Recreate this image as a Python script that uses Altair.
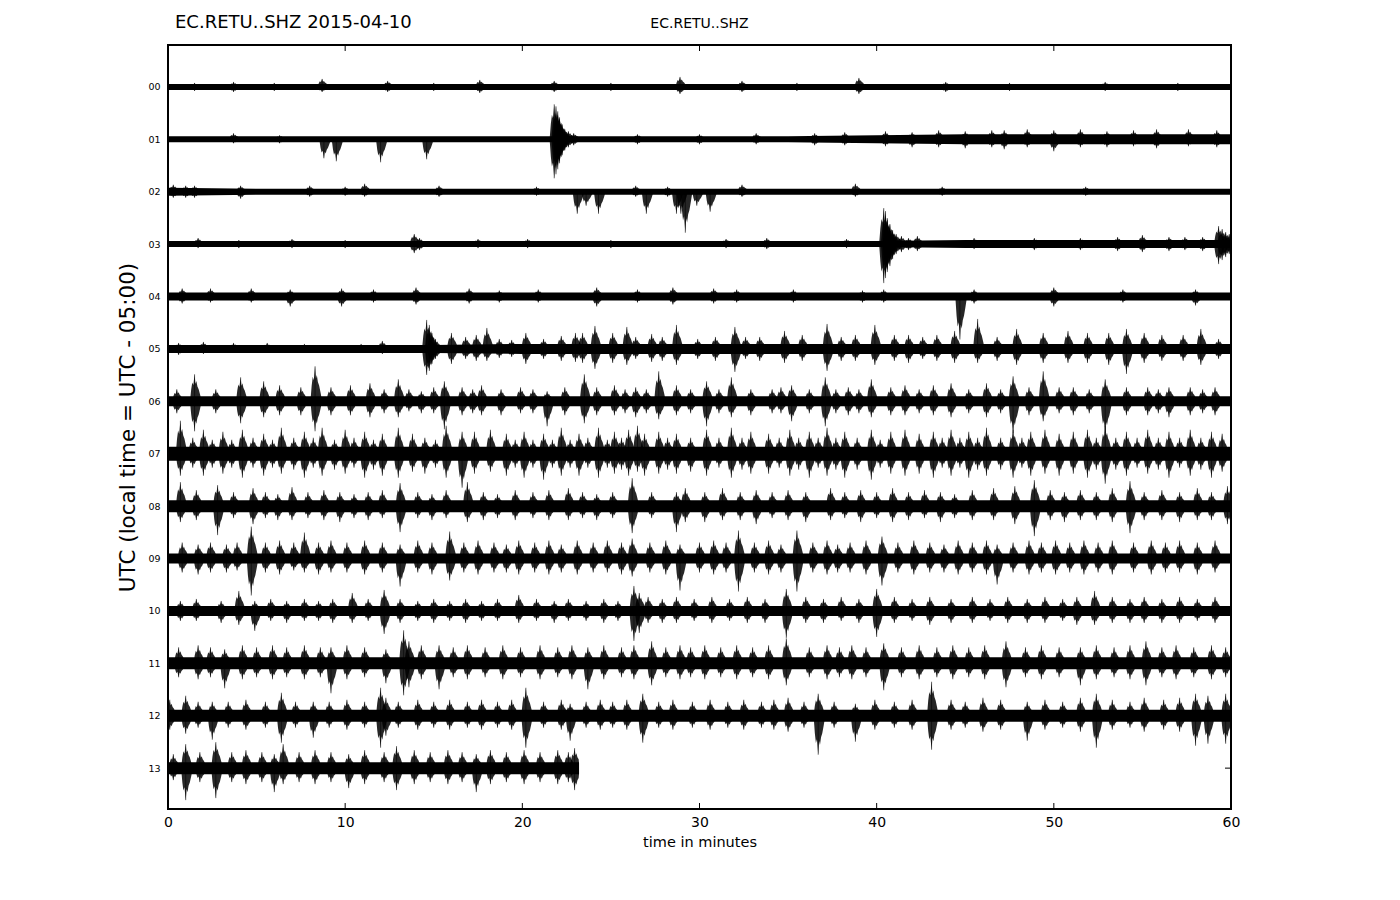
import altair as alt
import pandas as pd

# ---------------- data ----------------
hour_labels = ["00", "01", "02", "03", "04", "05", "06", "07", "08", "09", "10", "11", "12", "13"]
x_ticks = [0, 10, 20, 30, 40, 50, 60]
row_end_min = [60, 60, 60, 60, 60, 60, 60, 60, 60, 60, 60, 60, 60, 23.2]

# background noise half-amplitude (relative amplitude units) at minutes 0, 5, 10, ..., 60
noise_times = [0, 5, 10, 15, 20, 25, 30, 35, 40, 45, 50, 55, 60]
noise_00 = [3, 3, 3, 3, 3, 3, 3, 3, 3, 3, 3, 3, 3]
noise_01 = [3, 3, 3, 3, 3, 3, 3, 3, 4, 5, 5, 5, 5]
noise_02 = [4, 3, 3, 3, 3, 3, 3, 3, 3, 3, 3, 3, 3]
noise_03 = [3, 3, 3, 3, 3, 3, 3, 3, 3, 4, 4, 4, 4]
noise_04 = [4, 4, 4, 4, 4, 4, 4, 4, 4, 4, 4, 4, 4]
noise_05 = [4, 4, 4, 4, 5, 5, 5, 5, 5, 5, 5, 5, 5]
noise_06 = [5, 5, 5, 5, 5, 5, 5, 5, 5, 5, 5, 5, 5]
noise_07 = [7, 7, 7, 7, 7, 7, 7, 7, 7, 7, 7, 7, 7]
noise_08 = [6, 6, 6, 6, 6, 6, 6, 6, 6, 6, 6, 6, 6]
noise_09 = [5, 5, 5, 5, 5, 5, 5, 5, 5, 5, 5, 5, 5]
noise_10 = [5, 5, 5, 5, 5, 5, 5, 5, 5, 5, 5, 5, 5]
noise_11 = [6, 6, 6, 6, 6, 6, 6, 6, 6, 6, 6, 6, 6]
noise_12 = [6, 6, 6, 6, 6, 6, 6, 6, 6, 6, 6, 6, 6]
noise_13 = [6, 6, 6, 6, 6, 6]

# bursts: (minute, amplitude up, amplitude down)
bursts_00 = [(1.5, 4, 4), (3.7, 5, 5), (6.0, 4, 4), (8.7, 8, 5), (12.4, 6, 5), (15.0, 4, 4), (17.6, 7, 6),
             (21.8, 6, 5), (25.0, 4, 4), (28.9, 10, 7), (32.4, 6, 5), (35.5, 4, 4), (39.0, 9, 7), (43.9, 5, 5),
             (47.5, 4, 4), (52.9, 5, 4), (57.0, 4, 4)]
bursts_01 = [(3.7, 6, 4), (6.3, 4, 4), (8.8, 2, 19), (9.5, 2, 22), (12.0, 2, 23), (14.6, 2, 20),
             (21.8, 35, 39), (21.9, 33, 35), (22.0, 28, 30), (22.1, 22, 24), (22.25, 15, 16), (22.4, 10, 11),
             (22.6, 8, 8), (22.9, 6, 6), (26.5, 5, 5), (30.0, 5, 5), (33.2, 6, 5), (36.5, 6, 6), (38.2, 7, 6),
             (40.5, 8, 7), (42.0, 7, 8), (43.5, 9, 8), (45.0, 8, 9), (46.5, 9, 8), (47.2, 9, 10), (48.5, 10, 8),
             (50.0, 9, 12), (51.5, 10, 8), (53.0, 8, 8), (54.5, 9, 7), (55.8, 10, 9), (57.6, 10, 7), (59.2, 9, 8)]
bursts_02 = [(0.3, 7, 6), (1.0, 6, 6), (1.5, 6, 6), (4.1, 6, 7), (8.0, 6, 5), (10.0, 5, 4), (11.1, 8, 5),
             (15.3, 6, 5), (20.8, 5, 4), (23.1, 2, 22), (23.6, 2, 14), (24.3, 2, 22), (26.4, 6, 5), (27.0, 2, 22),
             (28.2, 5, 5), (28.7, 2, 22), (28.95, 2, 22), (29.2, 2, 41), (29.85, 2, 14), (30.6, 2, 20),
             (32.4, 7, 5), (38.8, 8, 5), (43.7, 5, 4), (51.8, 5, 4)]
bursts_03 = [(1.7, 6, 4), (4.0, 4, 4), (7.0, 5, 4), (10.0, 4, 4), (13.9, 10, 9), (14.2, 6, 6), (17.5, 5, 4),
             (20.3, 5, 4), (25.0, 4, 4), (31.5, 5, 4), (33.8, 6, 5), (38.3, 5, 4), (40.4, 36, 39), (40.5, 33, 34),
             (40.6, 26, 28), (40.75, 20, 22), (40.9, 14, 15), (41.1, 10, 10), (41.4, 8, 8), (41.8, 6, 6),
             (42.3, 8, 7), (45.5, 6, 5), (48.9, 6, 6), (51.5, 6, 6), (53.6, 7, 7), (55.0, 9, 8), (56.5, 7, 7),
             (57.4, 7, 6), (58.4, 7, 7), (59.3, 18, 20), (59.5, 15, 16), (59.7, 12, 13), (59.9, 10, 10)]
bursts_04 = [(0.8, 8, 7), (2.4, 8, 6), (4.7, 8, 6), (6.9, 7, 10), (9.8, 8, 10), (11.6, 7, 6), (14.0, 9, 8),
             (17.0, 8, 7), (18.7, 6, 6), (20.9, 7, 6), (24.2, 9, 10), (26.5, 7, 6), (28.5, 9, 8), (30.8, 8, 7),
             (32.1, 7, 6), (35.3, 7, 6), (39.2, 6, 6), (40.4, 7, 6), (44.7, 3, 43), (45.5, 7, 7), (50.0, 9, 10),
             (53.9, 7, 6), (58.0, 7, 9)]
bursts_05 = [(0.6, 6, 6), (2.0, 7, 5), (3.7, 6, 4), (5.6, 6, 4), (7.7, 5, 4), (10.9, 5, 4), (12.1, 8, 5),
             (14.6, 29, 26), (14.75, 24, 22), (14.9, 16, 15), (15.1, 10, 10), (16.0, 16, 15), (16.8, 12, 10),
             (17.4, 14, 12), (18.0, 21, 12), (18.7, 10, 9), (19.4, 9, 8), (20.2, 16, 15), (21.2, 10, 10),
             (22.2, 13, 12), (23.0, 16, 13), (23.4, 16, 14), (24.1, 23, 20), (25.1, 16, 14), (25.9, 22, 16),
             (26.4, 12, 10), (27.3, 15, 13), (27.9, 12, 12), (28.7, 24, 16), (29.9, 10, 10), (30.9, 12, 12),
             (32.0, 22, 23), (32.6, 12, 10), (33.4, 12, 12), (34.8, 18, 14), (35.8, 14, 12), (37.2, 25, 22),
             (38.0, 12, 12), (38.8, 14, 12), (39.9, 24, 16), (41.0, 14, 12), (41.8, 14, 14), (42.6, 12, 10),
             (43.4, 14, 12), (44.4, 18, 14), (45.7, 30, 14), (46.8, 12, 12), (47.9, 20, 16), (49.4, 16, 14),
             (50.8, 18, 14), (51.9, 16, 14), (53.1, 16, 16), (54.1, 20, 25), (55.1, 16, 14), (56.1, 14, 12),
             (57.3, 14, 12), (58.3, 20, 16), (59.3, 10, 10)]
bursts_06 = [(0.5, 12, 12), (1.5, 27, 30), (2.7, 12, 12), (4.1, 24, 22), (5.4, 20, 16), (6.3, 16, 14),
             (7.5, 14, 14), (8.3, 35, 30), (9.2, 14, 14), (10.3, 16, 14), (11.4, 18, 16), (12.2, 12, 12),
             (13.0, 22, 16), (13.6, 12, 10), (14.3, 10, 12), (15.0, 14, 12), (15.6, 20, 28), (16.6, 14, 14),
             (17.2, 12, 12), (17.7, 16, 14), (18.8, 12, 14), (19.9, 14, 12), (20.6, 12, 12), (21.4, 10, 25),
             (22.4, 14, 14), (23.5, 27, 22), (24.2, 14, 14), (25.2, 16, 14), (25.8, 12, 12), (26.4, 14, 16),
             (27.0, 12, 12), (27.7, 30, 18), (28.7, 16, 14), (29.5, 12, 12), (30.4, 20, 25), (31.1, 12, 12),
             (31.8, 24, 16), (32.9, 12, 14), (34.1, 12, 12), (34.6, 14, 12), (35.2, 16, 20), (36.2, 12, 12),
             (37.1, 24, 25), (37.7, 12, 12), (38.4, 14, 14), (39.0, 12, 12), (39.7, 22, 16), (40.8, 14, 14),
             (41.6, 16, 14), (42.4, 12, 12), (43.2, 16, 14), (44.2, 18, 16), (45.2, 12, 12), (46.2, 18, 16),
             (47.0, 12, 12), (47.7, 25, 32), (48.6, 14, 14), (49.4, 30, 20), (50.3, 14, 12), (51.1, 14, 14),
             (52.0, 12, 12), (52.9, 22, 32), (54.1, 14, 14), (55.3, 14, 14), (55.9, 12, 12), (56.5, 14, 16),
             (57.7, 14, 14), (58.4, 12, 12), (59.1, 14, 14)]
bursts_07 = [(0.7, 33, 22), (1.4, 16, 14), (2.0, 24, 22), (2.5, 14, 14), (3.1, 22, 20), (3.6, 14, 14),
             (4.2, 24, 24), (4.8, 16, 14), (5.4, 20, 22), (5.9, 14, 14), (6.4, 26, 20), (7.1, 16, 16),
             (7.7, 22, 24), (8.2, 16, 14), (8.7, 26, 22), (9.4, 14, 16), (10.0, 24, 20), (10.5, 16, 14),
             (11.1, 22, 24), (11.6, 14, 16), (12.1, 20, 22), (13.0, 26, 24), (13.8, 20, 18), (14.5, 16, 20),
             (15.1, 14, 14), (15.7, 28, 24), (16.6, 22, 34), (17.3, 22, 20), (18.2, 24, 18), (19.1, 20, 22),
             (19.6, 14, 14), (20.1, 22, 24), (20.6, 14, 14), (21.2, 20, 26), (21.7, 14, 14), (22.2, 26, 22),
             (22.7, 14, 14), (23.2, 20, 22), (23.7, 16, 14), (24.3, 26, 24), (24.8, 14, 14), (25.2, 22, 20),
             (25.6, 16, 16), (26.0, 24, 22), (26.5, 28, 18), (26.9, 20, 22), (27.7, 22, 20), (28.2, 16, 16),
             (28.7, 20, 20), (29.5, 16, 18), (30.4, 24, 22), (31.1, 16, 14), (31.8, 26, 24), (32.4, 16, 16),
             (32.9, 22, 20), (33.9, 20, 20), (34.5, 16, 14), (35.1, 24, 22), (35.6, 16, 16), (36.2, 22, 24),
             (36.7, 16, 14), (37.2, 26, 22), (37.7, 16, 16), (38.2, 22, 24), (38.9, 16, 16), (39.7, 24, 26),
             (40.2, 14, 14), (40.8, 22, 20), (41.6, 24, 22), (42.4, 20, 20), (43.2, 22, 24), (43.7, 16, 14),
             (44.2, 24, 22), (44.7, 16, 14), (45.2, 22, 24), (45.7, 16, 16), (46.2, 26, 22), (47.0, 16, 16),
             (47.7, 24, 24), (48.2, 16, 14), (48.7, 22, 22), (49.5, 24, 20), (50.3, 20, 22), (51.1, 22, 20),
             (51.9, 24, 24), (52.4, 16, 16), (52.9, 28, 30), (53.5, 16, 16), (54.1, 22, 22), (54.7, 16, 14),
             (55.3, 24, 20), (55.9, 16, 16), (56.5, 22, 24), (57.1, 16, 14), (57.7, 24, 22), (58.3, 16, 16),
             (58.9, 22, 24), (59.5, 20, 18)]
bursts_08 = [(0.7, 24, 16), (1.6, 16, 14), (2.8, 21, 29), (3.7, 14, 12), (4.8, 18, 18), (5.5, 14, 12),
             (6.2, 12, 14), (7.0, 19, 14), (7.9, 14, 12), (8.8, 16, 14), (9.7, 14, 16), (10.5, 12, 12),
             (11.3, 14, 14), (12.1, 16, 12), (13.1, 23, 26), (14.1, 14, 12), (14.9, 12, 14), (15.7, 16, 12),
             (16.9, 24, 16), (17.8, 14, 14), (18.6, 12, 12), (19.6, 16, 14), (20.6, 14, 12), (21.5, 16, 14),
             (22.6, 18, 14), (23.4, 14, 12), (24.2, 12, 14), (25.1, 14, 12), (26.2, 28, 27), (27.3, 14, 12),
             (28.7, 14, 26), (29.2, 18, 16), (30.3, 14, 16), (31.3, 18, 14), (32.3, 14, 14), (33.2, 16, 18),
             (34.1, 14, 12), (35.0, 16, 14), (36.0, 14, 16), (37.4, 18, 14), (38.2, 14, 12), (39.1, 16, 16),
             (40.0, 14, 12), (40.9, 18, 16), (41.8, 14, 14), (42.7, 16, 12), (43.6, 14, 16), (44.4, 12, 12),
             (45.4, 16, 14), (46.6, 18, 14), (47.8, 20, 18), (48.9, 26, 30), (49.8, 16, 14), (50.6, 14, 16),
             (51.5, 16, 14), (52.4, 14, 14), (53.3, 18, 16), (54.3, 25, 27), (55.1, 14, 14), (56.1, 16, 14),
             (57.1, 14, 16), (58.1, 18, 14), (58.9, 14, 14), (59.8, 20, 18)]
bursts_09 = [(0.8, 16, 14), (1.7, 14, 16), (2.4, 16, 14), (3.3, 14, 14), (3.9, 16, 12), (4.7, 32, 37),
             (5.5, 16, 14), (6.3, 18, 16), (7.1, 16, 12), (7.7, 26, 14), (8.5, 16, 16), (9.2, 18, 14),
             (10.1, 16, 14), (11.1, 18, 16), (12.1, 16, 14), (13.1, 14, 28), (14.1, 18, 14), (14.9, 16, 16),
             (15.9, 27, 22), (16.7, 16, 14), (17.5, 18, 16), (18.4, 16, 14), (19.1, 14, 14), (19.8, 18, 16),
             (20.7, 16, 14), (21.5, 18, 16), (22.2, 14, 14), (23.1, 18, 16), (24.0, 16, 14), (24.8, 18, 14),
             (25.6, 16, 16), (26.2, 20, 18), (27.2, 16, 14), (28.1, 18, 16), (28.9, 14, 32), (30.0, 16, 14),
             (30.8, 18, 16), (31.5, 16, 14), (32.2, 28, 33), (33.1, 16, 14), (33.9, 18, 16), (34.6, 14, 14),
             (35.5, 28, 33), (36.4, 16, 14), (37.2, 18, 16), (37.8, 14, 14), (38.5, 16, 14), (39.4, 18, 16),
             (40.3, 22, 27), (41.2, 16, 14), (42.1, 18, 16), (43.0, 16, 14), (43.8, 14, 14), (44.6, 18, 16),
             (45.4, 16, 14), (46.2, 18, 16), (46.8, 14, 26), (47.7, 16, 14), (48.6, 18, 16), (49.3, 16, 14),
             (50.1, 18, 16), (50.9, 16, 14), (51.7, 18, 16), (52.5, 16, 14), (53.3, 18, 16), (54.5, 16, 14),
             (55.5, 18, 16), (56.3, 16, 14), (57.1, 18, 14), (58.1, 16, 16), (59.1, 18, 14)]
bursts_10 = [(0.7, 10, 10), (1.6, 12, 10), (3.0, 10, 12), (4.0, 20, 14), (4.9, 10, 20), (5.8, 12, 10),
             (6.7, 10, 12), (7.7, 12, 10), (8.5, 10, 10), (9.3, 12, 12), (10.4, 18, 12), (11.3, 12, 10),
             (12.2, 21, 23), (13.1, 12, 12), (14.1, 10, 10), (15.0, 12, 12), (15.9, 10, 10), (16.8, 12, 12),
             (17.7, 10, 10), (18.6, 12, 10), (19.8, 16, 12), (20.8, 12, 10), (21.8, 10, 12), (22.6, 12, 10),
             (23.6, 10, 10), (24.6, 12, 12), (25.4, 10, 10), (26.3, 25, 30), (26.6, 18, 22), (27.1, 14, 12),
             (27.9, 12, 12), (28.7, 14, 12), (29.7, 12, 10), (30.7, 14, 12), (31.7, 12, 10), (32.7, 14, 12),
             (33.7, 12, 12), (34.9, 22, 27), (36.0, 14, 12), (37.0, 12, 12), (38.0, 14, 10), (39.0, 12, 12),
             (40.0, 22, 26), (41.0, 14, 12), (42.0, 12, 10), (43.0, 14, 14), (44.2, 12, 12), (45.4, 14, 12),
             (46.4, 12, 10), (47.4, 14, 12), (48.5, 12, 12), (49.5, 14, 12), (50.5, 12, 10), (51.3, 14, 14),
             (52.3, 20, 14), (53.3, 14, 12), (54.3, 12, 12), (55.1, 14, 12), (56.1, 12, 12), (57.1, 14, 12),
             (58.1, 12, 10), (59.1, 14, 12)]
bursts_11 = [(0.6, 16, 14), (1.7, 18, 16), (2.4, 16, 14), (3.2, 14, 25), (4.2, 18, 16), (5.0, 16, 14),
             (5.9, 18, 16), (6.7, 16, 14), (7.7, 18, 16), (8.6, 16, 14), (9.2, 16, 30), (10.1, 18, 16),
             (11.1, 16, 14), (12.3, 14, 20), (13.3, 33, 32), (13.6, 22, 24), (14.3, 18, 16), (15.3, 18, 26),
             (16.1, 16, 14), (16.9, 18, 16), (17.9, 16, 14), (18.9, 18, 16), (19.9, 16, 14), (21.0, 18, 16),
             (22.0, 16, 14), (22.8, 18, 16), (23.7, 16, 26), (24.6, 18, 16), (25.6, 16, 14), (26.3, 18, 16),
             (27.3, 22, 22), (28.1, 16, 14), (28.9, 18, 16), (29.5, 16, 14), (30.3, 18, 16), (31.2, 16, 14),
             (32.1, 18, 16), (33.0, 16, 14), (33.9, 18, 16), (34.9, 25, 22), (36.2, 16, 14), (37.2, 18, 16),
             (37.9, 16, 14), (38.6, 18, 16), (39.4, 16, 14), (40.4, 20, 27), (41.4, 16, 14), (42.4, 18, 16),
             (43.4, 16, 14), (44.3, 18, 16), (45.2, 16, 14), (46.1, 18, 16), (47.3, 22, 24), (48.4, 16, 14),
             (49.3, 18, 16), (50.3, 16, 14), (51.5, 16, 22), (52.4, 18, 16), (53.4, 16, 14), (54.3, 18, 16),
             (55.2, 22, 22), (56.1, 16, 14), (56.9, 18, 16), (57.9, 16, 14), (58.9, 18, 16), (59.7, 16, 14)]
bursts_12 = [(0.1, 16, 14), (1.0, 20, 18), (1.7, 14, 12), (2.5, 14, 24), (3.4, 14, 12), (4.4, 16, 14),
             (5.5, 14, 12), (6.4, 23, 27), (7.2, 14, 12), (8.2, 14, 22), (9.1, 14, 12), (10.1, 16, 14),
             (11.1, 14, 12), (12.0, 28, 32), (12.3, 18, 20), (13.0, 14, 12), (14.1, 16, 14), (15.0, 14, 12),
             (15.9, 16, 14), (16.9, 14, 12), (17.7, 16, 14), (18.6, 14, 12), (19.4, 16, 14), (20.2, 28, 32),
             (21.2, 14, 12), (22.2, 16, 14), (22.7, 12, 25), (23.6, 14, 12), (24.4, 16, 14), (25.1, 14, 12),
             (25.9, 16, 14), (26.8, 22, 27), (27.7, 14, 12), (28.5, 16, 14), (29.6, 14, 12), (30.6, 16, 14),
             (31.6, 14, 12), (32.5, 16, 14), (33.5, 14, 12), (34.2, 16, 14), (35.0, 18, 16), (35.9, 14, 12),
             (36.7, 22, 39), (37.6, 14, 12), (38.8, 12, 26), (39.9, 16, 14), (41.0, 14, 12), (42.0, 16, 14),
             (43.1, 34, 34), (44.2, 16, 14), (45.0, 14, 12), (46.0, 18, 16), (47.0, 16, 14), (48.5, 14, 25),
             (49.5, 16, 14), (50.5, 14, 12), (51.5, 18, 16), (52.4, 22, 32), (53.3, 16, 14), (54.3, 14, 12),
             (55.1, 18, 16), (56.2, 16, 14), (57.1, 18, 16), (58.0, 22, 30), (58.7, 20, 28), (59.7, 22, 28)]
bursts_13 = [(0.3, 14, 12), (1.0, 24, 32), (1.8, 16, 14), (2.7, 26, 30), (3.6, 16, 14), (4.4, 18, 16),
             (5.3, 16, 14), (6.0, 14, 24), (6.5, 24, 16), (7.4, 16, 14), (8.3, 18, 16), (9.2, 16, 14),
             (10.2, 14, 20), (11.1, 18, 16), (12.2, 16, 14), (12.9, 22, 22), (13.9, 18, 16), (14.8, 16, 14),
             (15.8, 18, 16), (16.6, 16, 14), (17.4, 14, 24), (18.2, 18, 16), (19.1, 16, 14), (20.1, 18, 16),
             (21.0, 16, 14), (22.0, 18, 16), (22.6, 16, 14), (22.95, 20, 22)]

noise_levels = [noise_00, noise_01, noise_02, noise_03, noise_04, noise_05, noise_06,
                noise_07, noise_08, noise_09, noise_10, noise_11, noise_12, noise_13]
burst_lists = [bursts_00, bursts_01, bursts_02, bursts_03, bursts_04, bursts_05, bursts_06,
               bursts_07, bursts_08, bursts_09, bursts_10, bursts_11, bursts_12, bursts_13]

AMP_PER_ROW = 52.4   # relative amplitude units per trace spacing

# drawing glyph for one burst: a spindle with a sharp peak and ringing coda (time offsets in minutes)
GLYPH_DT = [-0.26, -0.19, -0.13, -0.07, 0.0, 0.05, 0.10, 0.16, 0.23, 0.31, 0.40]
GLYPH_F = [0.0, 0.45, 0.7, 0.6, 1.0, 0.65, 0.75, 0.55, 0.45, 0.25, 0.0]

noise_rows = []
for r, levels in enumerate(noise_levels):
    times = [t for t in noise_times if t < row_end_min[r]] + [row_end_min[r]]
    for t, lev in zip(times, levels):
        noise_rows.append({"row": r, "t": t,
                           "top": r - lev / AMP_PER_ROW, "bot": r + lev / AMP_PER_ROW})
noise_df = pd.DataFrame(noise_rows)

glyph_rows = []
spike_rows = []
bid = 0
for r, lst in enumerate(burst_lists):
    for t, up, dn in lst:
        bid += 1
        spike_rows.append({"row": r, "t": t, "top": r - up / AMP_PER_ROW, "bot": r + dn / AMP_PER_ROW})
        for dt, f in zip(GLYPH_DT, GLYPH_F):
            tt = min(max(t + dt, 0), row_end_min[r])
            glyph_rows.append({"bid": bid, "t": tt,
                               "top": r - f * up / AMP_PER_ROW, "bot": r + f * dn / AMP_PER_ROW})
glyph_df = pd.DataFrame(glyph_rows)
spike_df = pd.DataFrame(spike_rows)

tick_df = pd.DataFrame({"t": x_ticks})
row_df = pd.DataFrame({"row": list(range(len(hour_labels)))})

W, H = 1063, 764
FONT = "DejaVu Sans"

xscale = alt.Scale(domain=[0, 60], nice=False, zero=False)
yscale = alt.Scale(domain=[-0.8, 13.78], reverse=True, nice=False, zero=False)

x_axis = alt.Axis(values=x_ticks, title="time in minutes", grid=False, ticks=False, domain=False,
                  labelFlush=False, labelFontSize=14, titleFontSize=14.5, titleFontWeight="normal",
                  labelPadding=6, titlePadding=6, labelColor="black", titleColor="black",
                  labelFont=FONT, titleFont=FONT)
y_axis = alt.Axis(values=list(range(len(hour_labels))), title="UTC (local time = UTC - 05:00)",
                  labelExpr="(datum.value < 10 ? '0' : '') + datum.value", labelFlush=False,
                  grid=False, ticks=False, domain=False, labelFontSize=9.5, titleFontSize=21.5,
                  titleFontWeight="normal", labelPadding=8, titlePadding=8, labelColor="black",
                  titleColor="black", labelFont=FONT, titleFont=FONT)

noise = alt.Chart(noise_df).mark_area(color="black", interpolate="linear").encode(
    x=alt.X("t:Q", scale=xscale, axis=x_axis),
    y=alt.Y("top:Q", scale=yscale, axis=y_axis),
    y2="bot:Q",
    detail="row:N",
)

glyphs = alt.Chart(glyph_df).mark_area(color="black", opacity=0.85, interpolate="linear").encode(
    x=alt.X("t:Q", scale=xscale), y=alt.Y("top:Q", scale=yscale), y2="bot:Q", detail="bid:N")

spikes = alt.Chart(spike_df).mark_rule(color="black", strokeWidth=0.8, opacity=0.7).encode(
    x=alt.X("t:Q", scale=xscale), y=alt.Y("top:Q", scale=yscale), y2="bot:Q")

xt_bottom = alt.Chart(tick_df).mark_rule(color="black", strokeWidth=1).encode(
    x=alt.X("t:Q", scale=xscale), y=alt.value(H), y2=alt.value(H - 6))
xt_top = alt.Chart(tick_df).mark_rule(color="black", strokeWidth=1).encode(
    x=alt.X("t:Q", scale=xscale), y=alt.value(0), y2=alt.value(6))
yt_left = alt.Chart(row_df).mark_rule(color="black", strokeWidth=1).encode(
    y=alt.Y("row:Q", scale=yscale), x=alt.value(0), x2=alt.value(6))
yt_right = alt.Chart(row_df).mark_rule(color="black", strokeWidth=1).encode(
    y=alt.Y("row:Q", scale=yscale), x=alt.value(W - 6), x2=alt.value(W))

title_df = pd.DataFrame({"txt": ["EC.RETU..SHZ 2015-04-10"]})
sub_df = pd.DataFrame({"txt": ["EC.RETU..SHZ"]})
title_left = alt.Chart(title_df).mark_text(align="left", baseline="middle", fontSize=18, font=FONT,
                                           color="black").encode(
    text="txt:N", x=alt.value(7), y=alt.value(-22))
title_mid = alt.Chart(sub_df).mark_text(align="center", baseline="middle", fontSize=14, font=FONT,
                                        color="black").encode(
    text="txt:N", x=alt.value(W / 2), y=alt.value(-21))

chart = alt.layer(noise, glyphs, spikes, xt_bottom, xt_top, yt_left, yt_right, title_left, title_mid).properties(
    width=W, height=H,
    padding={"left": 160, "top": 37, "right": 20, "bottom": 60},
    autosize=alt.AutoSizeParams(type="none"),
).configure(
    font=FONT, background="white",
    view=alt.ViewConfig(stroke="black", strokeWidth=2),
)

chart.save("out.html", embed_options={"renderer": "svg", "actions": False})
